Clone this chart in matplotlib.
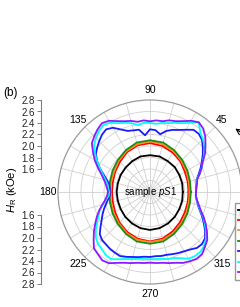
import numpy as np
import matplotlib
matplotlib.use('Agg')
import matplotlib.pyplot as plt

plt.rcParams['font.family'] = ['Liberation Sans', 'DejaVu Sans']
plt.rcParams['mathtext.fontset'] = 'custom'
plt.rcParams['mathtext.rm'] = 'Liberation Sans'
plt.rcParams['mathtext.it'] = 'Liberation Sans:italic'

# angles (deg) of the measured points
theta_coarse = np.arange(0, 360, 15)
theta_fine = np.arange(0, 360, 5)

# H_R (kOe), inner closed loops (every 15 deg)
hr_black = [1.77, 1.78, 1.79, 1.81, 1.82, 1.84, 1.84, 1.84, 1.82, 1.80, 1.79, 1.78,
            1.78, 1.78, 1.79, 1.81, 1.83, 1.85, 1.86, 1.85, 1.83, 1.81, 1.79, 1.78]
hr_red = [1.87, 1.88, 1.90, 1.95, 1.99, 2.03, 2.05, 2.04, 2.00, 1.94, 1.90, 1.87,
          1.86, 1.87, 1.90, 1.95, 2.00, 2.04, 2.06, 2.04, 1.99, 1.94, 1.90, 1.88]
hr_orange = [1.89, 1.90, 1.93, 1.97, 2.02, 2.06, 2.08, 2.06, 2.02, 1.97, 1.92, 1.90,
             1.89, 1.90, 1.93, 1.97, 2.02, 2.06, 2.07, 2.06, 2.02, 1.97, 1.93, 1.90]
hr_green = [1.91, 1.92, 1.95, 1.99, 2.04, 2.09, 2.10, 2.09, 2.04, 1.99, 1.95, 1.92,
            1.91, 1.92, 1.95, 1.99, 2.04, 2.09, 2.10, 2.09, 2.04, 1.99, 1.95, 1.92]

# outer loops (every 5 deg)
hr_blue = [2.00, 2.00, 2.02, 2.04, 2.10, 2.17, 2.24, 2.32, 2.40, 2.48, 2.52, 2.52,
           2.45, 2.39, 2.35, 2.30, 2.22, 2.28, 2.29, 2.19, 2.30, 2.31, 2.33, 2.40,
           2.49, 2.53, 2.50, 2.45, 2.40, 2.35, 2.26, 2.16, 2.05, 1.97, 1.92, 1.90,
           1.90, 1.90, 1.94, 1.99, 2.05, 2.11, 2.17, 2.25, 2.34, 2.38, 2.39, 2.41,
           2.42, 2.43, 2.40, 2.37, 2.35, 2.33, 2.33, 2.32, 2.33, 2.33, 2.35, 2.37,
           2.39, 2.42, 2.47, 2.48, 2.45, 2.37, 2.28, 2.20, 2.12, 2.06, 2.03, 2.00]
hr_cyan = [2.00, 2.01, 2.02, 2.04, 2.12, 2.19, 2.26, 2.35, 2.44, 2.50, 2.56, 2.68,
           2.59, 2.52, 2.48, 2.44, 2.42, 2.39, 2.40, 2.41, 2.38, 2.44, 2.48, 2.52,
           2.59, 2.62, 2.58, 2.53, 2.47, 2.37, 2.26, 2.16, 2.07, 2.00, 1.95, 1.93,
           1.91, 1.92, 1.98, 2.05, 2.13, 2.19, 2.26, 2.35, 2.43, 2.48, 2.50, 2.54,
           2.55, 2.49, 2.44, 2.41, 2.38, 2.37, 2.37, 2.37, 2.38, 2.41, 2.42, 2.47,
           2.54, 2.56, 2.56, 2.53, 2.47, 2.39, 2.30, 2.22, 2.13, 2.07, 2.03, 2.00]
hr_violet = [2.00, 2.01, 2.03, 2.05, 2.12, 2.19, 2.26, 2.37, 2.46, 2.56, 2.64, 2.68,
             2.63, 2.56, 2.51, 2.49, 2.45, 2.45, 2.43, 2.45, 2.44, 2.48, 2.51, 2.56,
             2.63, 2.66, 2.62, 2.57, 2.52, 2.41, 2.31, 2.20, 2.10, 2.03, 1.98, 1.95,
             1.93, 1.95, 1.99, 2.06, 2.14, 2.22, 2.30, 2.39, 2.48, 2.58, 2.61, 2.65,
             2.63, 2.56, 2.51, 2.48, 2.45, 2.44, 2.43, 2.44, 2.45, 2.48, 2.51, 2.56,
             2.59, 2.62, 2.61, 2.55, 2.50, 2.41, 2.32, 2.23, 2.14, 2.08, 2.03, 2.00]

colors = ['black', '#ff0000', '#ff8c1a', '#1a8c1a', '#1a1aff', '#00ffff', '#8c1aff']
r_ticks = [1.6, 1.8, 2.0, 2.2, 2.4, 2.6, 2.8]
angle_labels = [45, 90, 135, 180, 225, 270, 315]


def closed(theta_deg, vals):
    t = np.deg2rad(np.append(theta_deg, theta_deg[0]))
    return t, np.append(vals, vals[0])


fig = plt.figure(figsize=(2.4, 3.07), dpi=100)
ax = fig.add_axes([58 / 240, 23 / 307, 184 / 240, 184 / 307], projection='polar')

curves = [(theta_coarse, hr_black), (theta_coarse, hr_red), (theta_coarse, hr_orange),
          (theta_coarse, hr_green), (theta_fine, hr_blue), (theta_fine, hr_cyan),
          (theta_fine, hr_violet)]
handles = []
for (th, hr), c in zip(curves, colors):
    t, r = closed(th, hr)
    ln, = ax.plot(t, r, color=c, lw=1.3)
    handles.append(ln)

ax.set_ylim(1.2, 2.8)
ax.set_rgrids([1.4, 1.6, 1.8, 2.0, 2.2, 2.4, 2.6], labels=[])
angles = list(range(0, 360, 15))
ax.set_thetagrids(angles, labels=[str(a) if a in angle_labels else '' for a in angles],
                  fontsize=7.5)
ax.tick_params(axis='x', pad=-3.5)
ax.grid(color='#d0d0d0', lw=0.6)
ax.spines['polar'].set_color('#9a9a9a')
ax.spines['polar'].set_linewidth(0.9)

ax.text(0.5, 0.5, 'sample $\\mathit{pS1}$', transform=ax.transAxes,
        ha='center', va='center', fontsize=7)

# the H_R scale on the left, drawn twice (up and down)
ax_up = fig.add_axes([41 / 240, (307 - 169) / 307, 0.001, 69 / 307])
ax_dn = fig.add_axes([41 / 240, 23 / 307, 0.001, 69 / 307])
ax_up.set_ylim(1.6, 2.8)
ax_dn.set_ylim(2.8, 1.6)
for a in (ax_up, ax_dn):
    a.set_yticks(r_ticks)
    a.set_yticklabels(['%.1f' % v for v in r_ticks])
    a.patch.set_visible(False)
    for s in ('top', 'right', 'bottom'):
        a.spines[s].set_visible(False)
    a.spines['left'].set_color('#808080')
    a.spines['left'].set_linewidth(0.8)
    a.xaxis.set_visible(False)
    a.tick_params(axis='y', direction='out', length=3, width=0.7, color='#808080',
                  labelsize=7, pad=1.5, labelcolor='#222222')

fig.text(12 / 240, 1 - 190 / 307, '$H_\\mathrm{R}$ (kOe)', rotation=90,
         ha='center', va='center', fontsize=8)
fig.text(3 / 240, 1 - 93 / 307, '(b)', ha='left', va='center', fontsize=8.5)

# legend: only the line samples fall inside the picture
fig.legend(handles, [''] * len(handles), loc='upper left',
           bbox_to_anchor=(235 / 240, 1 - 203 / 307), fontsize=6.5,
           frameon=True, fancybox=False, edgecolor='#808080',
           handlelength=2.4, labelspacing=0.16, borderpad=0.3, borderaxespad=0)

ax.annotate('', xy=(233 / 240, 1 - 127 / 307), xytext=(252 / 240, 1 - 140 / 307),
            xycoords='figure fraction', textcoords='figure fraction',
            annotation_clip=False,
            arrowprops=dict(arrowstyle='->', color='black', lw=0.8))

fig.savefig('out.png', dpi=100)
